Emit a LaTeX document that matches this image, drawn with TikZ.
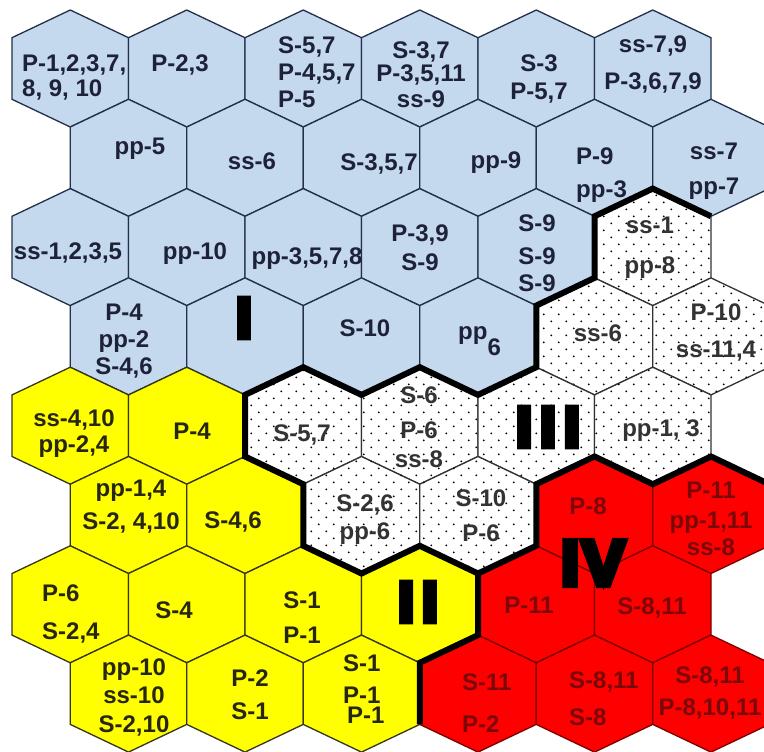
\documentclass[tikz,border=0pt]{standalone}
\usepackage{fontspec}
\setmainfont{Liberation Sans}
\newfontfamily\heavyfont[BoldFeatures={FakeBold=10}]{Liberation Sans}
\usetikzlibrary{patterns.meta}
\definecolor{cellblue}{HTML}{C4D8EE}
\definecolor{bluerim}{HTML}{22304A}
\definecolor{bluetxt}{HTML}{1E2238}
\definecolor{cellyellow}{HTML}{FFFF00}
\definecolor{yellowrim}{HTML}{35351A}
\definecolor{yellowtxt}{HTML}{262612}
\definecolor{cellred}{HTML}{FF0000}
\definecolor{redrim}{HTML}{7A0000}
\definecolor{redtxt}{HTML}{7A0808}
\definecolor{dotrim}{HTML}{333333}

\tikzdeclarepattern{
  name=sparsedots,
  type=uncolored,
  bounding box={(-7.5pt,-7pt) and (7.5pt,7pt)},
  tile size={(15pt,14pt)},
  code={
    \pgfpathcircle{\pgfqpoint{-3.75pt}{-3.5pt}}{1pt}
    \pgfpathcircle{\pgfqpoint{3.75pt}{3.5pt}}{1pt}
    \pgfusepath{fill}
  }
}

% one hexagon of the map: column, row, style
\newcommand{\hexcell}[3]{%
  \pgfmathsetmacro{\hx}{70.25+116.5*#1+58.25*mod(#2,2)}
  \pgfmathsetmacro{\hy}{68.5+89.3*#2}
  \path[#3] (\hx,\hy-58.5) coordinate (h#1#2n)
    -- (\hx+58.25,\hy-30.8) coordinate (h#1#2ne)
    -- (\hx+58.25,\hy+30.8) coordinate (h#1#2se)
    -- (\hx,\hy+58.5) coordinate (h#1#2s)
    -- (\hx-58.25,\hy+30.8) coordinate (h#1#2sw)
    -- (\hx-58.25,\hy-30.8) coordinate (h#1#2nw)
    -- cycle;
}

\begin{document}
\begin{tikzpicture}[x=1pt,y=-1pt,
    hexline/.style={line width=1.3pt, line join=miter},
    bluecell/.style={hexline, fill=cellblue, draw=bluerim},
    yellowcell/.style={hexline, fill=cellyellow, draw=yellowrim},
    redcell/.style={hexline, fill=cellred, draw=redrim},
    dotcell/.style={hexline, fill=white, draw=dotrim,
                    postaction={pattern=sparsedots, pattern color=black}},
    border/.style={line width=6pt, line join=miter, draw=black},
    cell/.style={font=\bfseries\fontsize{24}{27}\selectfont, inner sep=0pt,
                 anchor=north, align=center},
    cellL/.style={cell, anchor=north west, align=left},
    onblue/.style={text=bluetxt},
    onyellow/.style={text=yellowtxt},
    ondots/.style={text=dotrim},
    onred/.style={text=redtxt},
    numeral/.style={font=\heavyfont\bfseries\fontsize{57}{57}\selectfont,
                    inner sep=0pt, text=black},
  ]
  \fill[white] (0,0) rectangle (764,752);
  \clip (0,0) rectangle (764,752);

  % region I
  \foreach \hr/\hlast in {0/5,1/5,2/4,3/3}
    \foreach \hc in {0,...,\hlast} {\hexcell{\hc}{\hr}{bluecell}}
  % region III
  \foreach \hc/\hr in {5/2,4/3,5/3,2/4,3/4,4/4,5/4,2/5,3/5}
    {\hexcell{\hc}{\hr}{dotcell}}
  % region II
  \foreach \hc/\hr in {0/4,1/4,0/5,1/5,0/6,1/6,2/6,3/6,0/7,1/7,2/7}
    {\hexcell{\hc}{\hr}{yellowcell}}
  % region IV
  \foreach \hc/\hr in {4/5,5/5,4/6,5/6,3/7,4/7,5/7}
    {\hexcell{\hc}{\hr}{redcell}}

  % region borders
  \draw[border] (h52ne) -- (h52n) -- (h52nw) -- (h52sw) -- (h43nw) -- (h43sw)
    -- (h44nw) -- (h34n) -- (h34nw) -- (h24n) -- (h24nw) -- (h24sw) -- (h24s)
    -- (h25sw) -- (h25s) -- (h25se) -- (h35s) -- (h35se) -- (h35ne) -- (h45n)
    -- (h45ne) -- (h55n) -- (h55ne);
  \draw[border] (h35s) -- (h36se) -- (h36s) -- (h37sw);

  % row 0
  \node[cellL, onblue] (t00) at (22,55) {P-1,2,3,7,\\[-2pt]8, 9, 10};
  \node[cell, onblue] (t10) at (180,55) {P-2,3};
  \node[cellL, onblue] (t20) at (278,37) {S-5,7\\P-4,5,7\\P-5};
  \node[cell, onblue] (t30) at (421,42) {S-3,7\\[-4pt]P-3,5,11\\[-1pt]ss-9};
  \node[cell, onblue] (t40) at (539,55) {S-3\\[1pt]P-5,7};
  \node[cell, onblue] (t50) at (653,36) {ss-7,9\\[10pt]P-3,6,7,9};
  % row 1
  \node[cell, onblue] (t01) at (140,138) {pp-5};
  \node[cell, onblue] (t11) at (252,153) {ss-6};
  \node[cell, onblue] (t21) at (379,154) {S-3,5,7};
  \node[cell, onblue] (t31) at (496,152) {pp-9};
  \node[cellL, onblue] (t41) at (576,148) {P-9\\[6pt]pp-3};
  \node[cell, onblue] (t51) at (714,143) {ss-7\\[8pt]pp-7};
  % row 2
  \node[cell, onblue] (t02) at (68,243) {ss-1,2,3,5};
  \node[cell, onblue] (t12) at (195,243) {pp-10};
  \node[cell, onblue] (t22) at (307,248) {pp-3,5,7,8};
  \node[cell, onblue] (t32) at (420,225) {P-3,9\\[2pt]S-9};
  \node[cell, onblue] (t42) at (537,215) {S-9\\[6pt]S-9\\S-9};
  \node[cell, ondots] (t52) at (650,217) {ss-1\\[13pt]pp-8};
  % row 3
  \node[cell, onblue] (t03) at (124,304) {P-4\\pp-2\\S-4,6};
  \node[numeral] (lab1) at (244,318) {I};
  \node[cell, onblue] (t23) at (365,320) {S-10};
  \node[cell, onblue, anchor=base west] (t33) at (458,339) {pp\raisebox{-16pt}{6}};
  \node[cell, ondots] (t43) at (598,325) {ss-6};
  \node[cell, ondots] (t53) at (716,304) {P-10\\[10pt]ss-11,4};
  % row 4
  \node[cell, onyellow] (t04) at (74,410) {ss-4,10\\[-1pt]pp-2,4};
  \node[cell, onyellow] (t14) at (192,423) {P-4};
  \node[cell, ondots] (t24) at (302,425) {S-5,7};
  \node[cell, ondots] (t34) at (419,387) {S-6\\[8pt]P-6\\[2pt]ss-8};
  \node[numeral] (lab3) at (548,427) {I\kern8pt I\kern8pt I};
  \node[cell, ondots] (t54) at (661,420) {pp-1, 3};
  % row 5
  \node[cell, onyellow] (t05) at (131,480) {pp-1,4\\[6pt]S-2, 4,10};
  \node[cell, onyellow] (t15) at (233,512) {S-4,6};
  \node[cell, ondots] (t25) at (365,495) {S-2,6\\[1pt]pp-6};
  \node[cell, ondots] (t35) at (481,490) {S-10\\[8pt]P-6};
  \node[cell, onred] (t45) at (588,498) {P-8};
  \node[cell, onred] (t55) at (711,482) {P-11\\[3pt]pp-1,11\\ss-8};
  % row 6
  \node[cellL, onyellow] (t06) at (42,585) {P-6\\[11pt]S-2,4};
  \node[cell, onyellow] (t16) at (174,602) {S-4};
  \node[cell, onyellow] (t26) at (302,592) {S-1\\[8pt]P-1};
  \node[numeral] (lab2) at (418,602) {I\kern8pt I};
  \node[cell, onred] (t46) at (529,597) {P-11};
  \node[cell, onred] (t56) at (652,598) {S-8,11};
  \node[numeral, font=\heavyfont\bfseries\fontsize{64}{64}\selectfont] (lab4) at (593,563) {I\kern3pt V};
  % row 7
  \node[cell, onyellow] (t07) at (134,659) {pp-10\\[1pt]ss-10\\[2pt]S-2,10};
  \node[cell, onyellow] (t17) at (250,670) {P-2\\[6pt]S-1};
  \node[cellL, onyellow] (t27) at (343,655) {S-1\\[5pt]P-1\\[-7pt]\hspace*{4pt}P-1};
  \node[cellL, onred] (t37) at (462,674) {S-11\\[15pt]P-2};
  \node[cellL, onred] (t47) at (569,672) {S-8,11\\[10pt]S-8};
  \node[cell, onred] (t57) at (710,667) {S-8,11\\[5pt]P-8,10,11};
\end{tikzpicture}
\end{document}
